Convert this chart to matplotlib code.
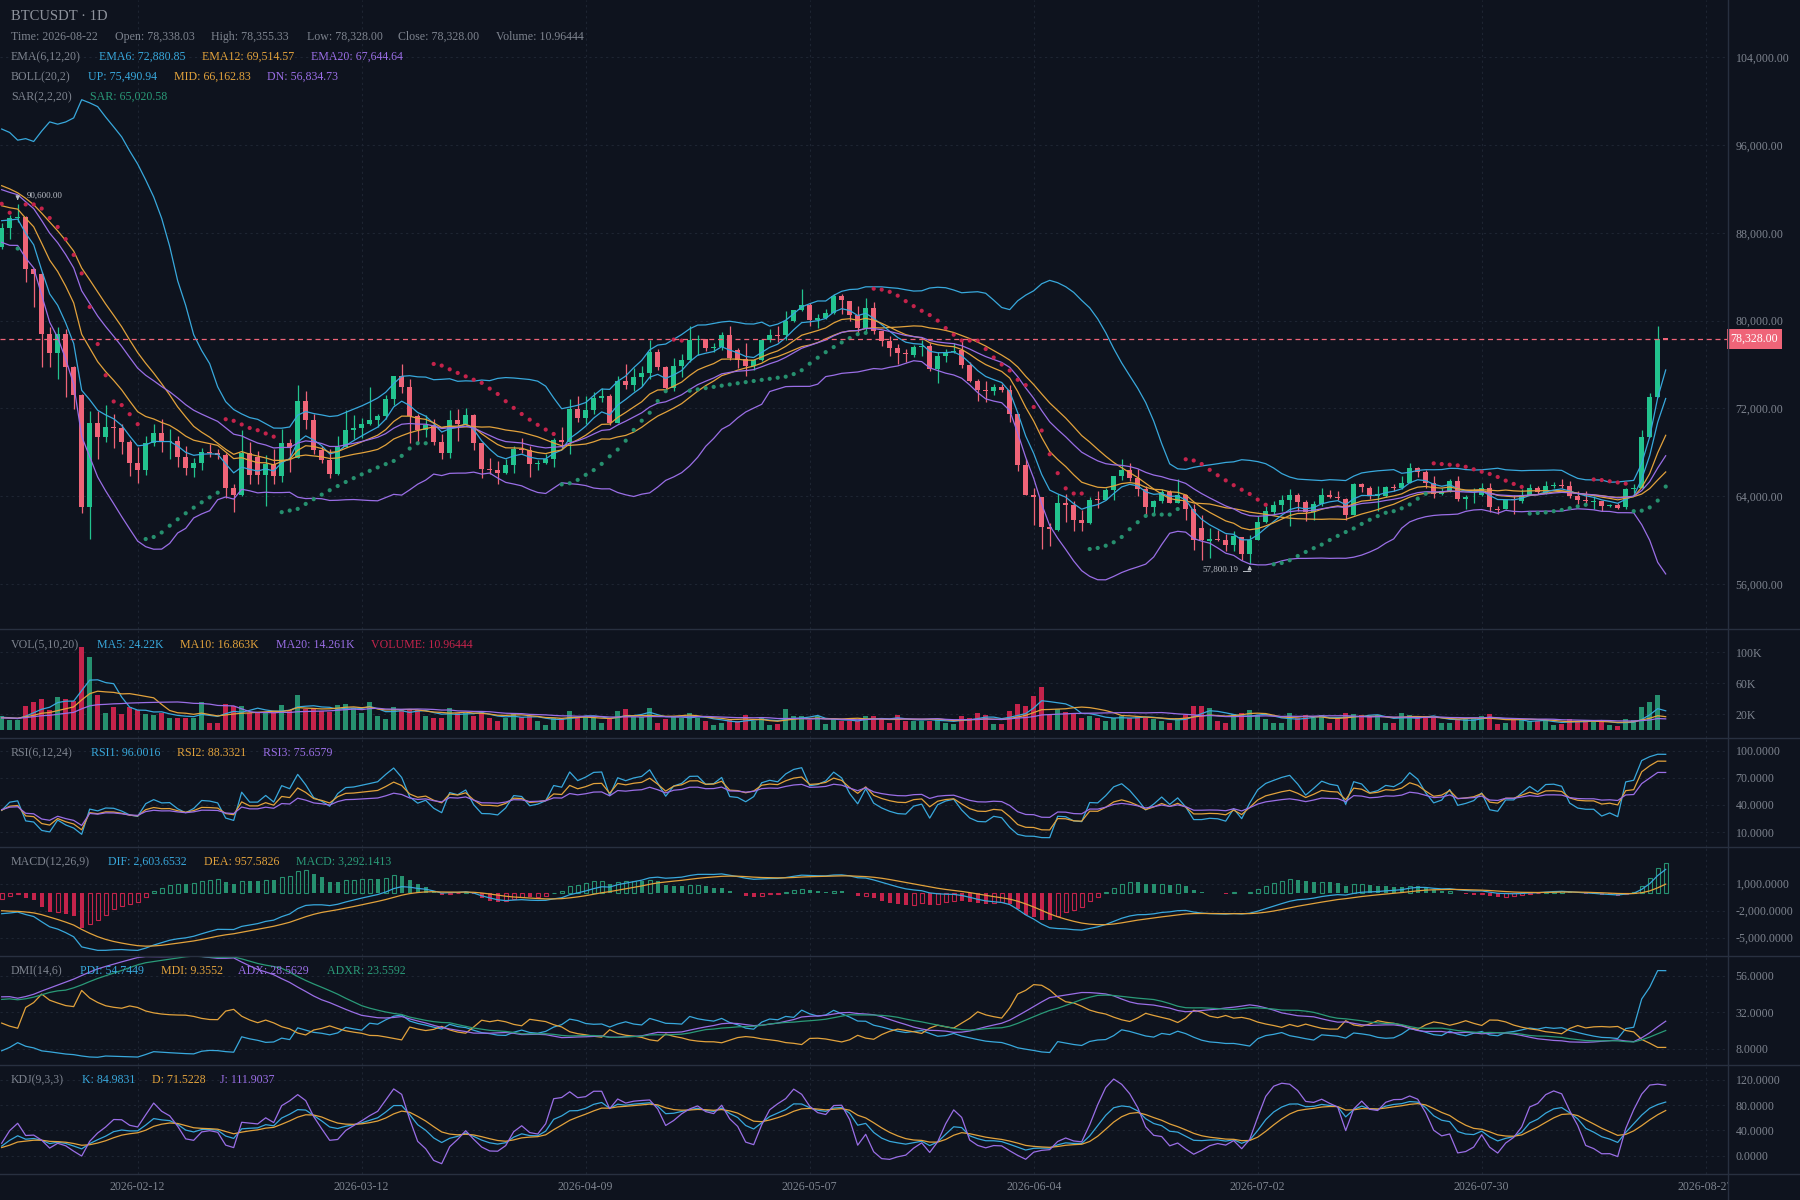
import datetime as dt
import numpy as np
import pandas as pd
import matplotlib
matplotlib.use("Agg")
import matplotlib.pyplot as plt
from matplotlib.lines import Line2D

plt.rcParams['font.family'] = ['Liberation Serif', 'DejaVu Serif']

# ---------------- data ----------------
start_date = dt.date(2026, 1, 26)

# days before the visible window, only used to seed the indicators
warm_open = [100200, 99500, 98200, 99600, 100400, 98900, 97600, 98800, 97200, 96100,
             97500, 96000, 95200, 96600, 94800, 95900, 94200, 93300, 94900, 93400,
             92500, 93900, 92100, 91300, 92600, 90700, 89900, 91200, 89300, 88400]
warm_high = [100900, 99900, 100000, 101000, 100600, 99200, 99300, 99000, 97500, 97900,
             97800, 96300, 97000, 96900, 96300, 96200, 94500, 95300, 95200, 93700,
             94300, 94200, 92400, 93000, 92900, 91000, 91600, 91500, 89600, 88700]
warm_low = [99000, 97900, 98000, 99300, 98600, 97200, 97400, 96900, 95700, 95900,
            95700, 94800, 95000, 94500, 94600, 93900, 92900, 93100, 93100, 92100,
            92300, 91800, 91000, 91100, 90400, 89600, 89700, 89000, 88100, 87300]
warm_close = [99500, 98200, 99600, 100400, 98900, 97600, 98800, 97200, 96100, 97500,
              96000, 95200, 96600, 94800, 95900, 94200, 93300, 94900, 93400, 92500,
              93900, 92100, 91300, 92600, 90700, 89900, 91200, 89300, 88400, 87600]
warm_vol = [14, 16, 12, 18, 15, 13, 17, 14, 19, 16, 13, 15, 18, 14, 12,
            16, 15, 17, 13, 14, 16, 18, 15, 13, 17, 14, 16, 19, 15, 14]

opens = [86730, 88410, 89330, 89480, 84750, 84290, 78800, 77060, 78800, 75800,
         73220, 63000, 70660, 69410, 70350, 70200, 68950, 67060, 66360, 68890,
         69800, 68950, 69000, 67580, 66540, 67060, 68070, 67980, 67730, 64770,
         64070, 67980, 67580, 65930, 66970, 65840, 68890, 67520, 72670, 70930,
         68190, 67300, 65990, 68530, 70050, 70200, 70570, 70930, 71270, 72850,
         74930, 73980, 71270, 70050, 70470, 68940, 67910, 70930, 70570, 71390,
         68830, 66450, 66390, 66080, 66810, 68340, 68220, 66900, 67060, 67370,
         69130, 68980, 71940, 71090, 71850, 73000, 73100, 70720, 74530, 74140,
         74840, 75230, 77180, 75750, 73830, 75840, 76450, 78280, 78340, 77490,
         77590, 78710, 77370, 76510, 75840, 76420, 78280, 78710, 78710, 79930,
         80990, 81450, 80080, 80260, 80720, 82250, 81790, 80540, 79320, 81180,
         79100, 78190, 77520, 77060, 76880, 77580, 77730, 75600, 76760, 77120,
         77370, 75970, 74530, 73680, 73550, 73980, 73710, 71480, 66810, 64160,
         63950, 61170, 60900, 63340, 63160, 61810, 61570, 63700, 63640, 64530,
         65840, 66360, 65690, 64620, 63030, 63610, 64370, 63400, 64070, 62850,
         61110, 59890, 60140, 60040, 59590, 60290, 58760, 60040, 61630, 62540,
         63180, 63700, 64070, 63460, 62540, 63250, 64160, 63950, 63760, 62330,
         65080, 64770, 64010, 64010, 64860, 64770, 65230, 66600, 66200, 65170,
         64250, 64470, 65410, 63790, 64070, 64100, 64770, 62850, 62880, 63700,
         63550, 64160, 64710, 64310, 64920, 65010, 64980, 64010, 63640, 63460,
         63550, 63090, 63180, 62990, 64620, 64770, 69410, 73070, 78338.03]
highs = [88870, 89630, 90600, 89550, 84800, 84400, 79410, 79410, 79260, 75900,
         73300, 71730, 71730, 72310, 71480, 70570, 69100, 68490, 69500, 70570,
         71020, 70170, 69500, 68580, 67520, 68430, 68740, 68280, 67900, 65080,
         70020, 68950, 68130, 67760, 68280, 70100, 69255, 74130, 73620, 71480,
         68580, 68280, 69500, 71880, 71390, 71150, 73920, 71480, 73220, 74930,
         76060, 74680, 71480, 71390, 71020, 69650, 71880, 71940, 72030, 71480,
         68830, 67460, 67210, 67370, 68580, 69350, 68580, 67300, 67880, 69350,
         70350, 72850, 73160, 73160, 73470, 73830, 73300, 74990, 76060, 75660,
         75900, 78280, 77430, 75900, 76570, 76970, 79560, 78710, 78340, 77980,
         78950, 79560, 77490, 77980, 76510, 78340, 79260, 79500, 80850, 81000,
         82920, 81640, 80630, 81090, 82460, 82460, 81790, 81330, 82100, 81700,
         79100, 78590, 77890, 77430, 77800, 78250, 77950, 77120, 77430, 77950,
         78190, 76210, 74680, 74530, 74230, 74230, 74130, 71480, 67370, 64770,
         63950, 61570, 64250, 64250, 63610, 62790, 63950, 64470, 64710, 65840,
         67370, 67000, 66450, 64920, 63700, 64620, 64560, 65600, 64250, 63250,
         62330, 61110, 60960, 60590, 60810, 60290, 60500, 62240, 63100, 63550,
         64160, 64680, 64320, 63700, 63550, 64770, 64530, 64470, 63860, 65230,
         65230, 64920, 64920, 64920, 65080, 65840, 67000, 66690, 66390, 65840,
         64770, 65600, 65840, 64160, 64770, 65230, 65230, 63090, 63700, 64160,
         64620, 65080, 64920, 65380, 65290, 65530, 65380, 64470, 64470, 64010,
         63550, 63250, 63400, 64770, 65080, 70020, 73400, 79560, 78355.33]
lows = [86580, 87430, 89020, 83530, 81240, 75800, 75800, 74680, 73070, 71940,
        62480, 60100, 67420, 68950, 68430, 67820, 65840, 65230, 65900, 68580,
        68040, 67420, 66660, 65900, 65750, 66360, 67580, 67370, 63860, 62550,
        64010, 65080, 65080, 63100, 65080, 65290, 66200, 67520, 70110, 67820,
        66990, 65630, 65900, 68530, 69255, 69350, 70480, 70350, 71020, 72310,
        73400, 68830, 68830, 69440, 68650, 67370, 67520, 69040, 70480, 68190,
        65630, 65990, 65080, 65990, 66080, 67980, 65780, 66390, 66900, 66690,
        68280, 67820, 70780, 70570, 71480, 72610, 70500, 70660, 73770, 73620,
        74070, 74680, 75540, 73680, 73620, 74840, 76270, 76880, 77280, 77190,
        77370, 76450, 75660, 74990, 75540, 76360, 78040, 78100, 78280, 79870,
        80930, 79560, 79320, 80170, 80630, 80630, 80020, 78890, 79015, 78800,
        77730, 76820, 76060, 76270, 76670, 76820, 75450, 74320, 76210, 77060,
        75660, 74380, 72700, 72610, 73220, 73460, 70780, 66300, 64160, 61420,
        59190, 59500, 60810, 61630, 60810, 60810, 61510, 62940, 63640, 63700,
        65470, 65380, 64010, 62330, 62330, 63340, 63340, 63340, 61880, 59130,
        58150, 58370, 59890, 58980, 58980, 58220, 57800.19, 59980, 61570, 62330,
        62640, 61320, 62640, 61720, 61810, 63100, 63860, 63700, 61810, 62330,
        64380, 63760, 62640, 63950, 64470, 64620, 65170, 65780, 64770, 63860,
        64070, 64380, 63550, 62850, 63340, 64010, 62580, 62420, 62850, 62420,
        63400, 64070, 64250, 64250, 64770, 64770, 63860, 63250, 63250, 62880,
        62640, 63030, 62850, 62850, 64310, 64770, 69410, 73070, 78328.00]
closes = [88410, 89330, 89480, 84750, 84290, 78800, 77060, 78800, 75800, 73220,
          63000, 70660, 69410, 70350, 70200, 68950, 67060, 66360, 68890, 69800,
          68950, 69000, 67580, 66540, 67060, 68070, 67980, 67730, 64770, 64070,
          67980, 65930, 65930, 66970, 65840, 68890, 68430, 72670, 70930, 68190,
          67300, 65990, 68530, 70050, 70200, 70570, 70930, 71270, 72850, 74930,
          73980, 71270, 70050, 70470, 68940, 67910, 70930, 70570, 71390, 68830,
          66450, 66390, 66080, 66810, 68340, 68220, 66900, 67060, 67370, 69130,
          68980, 71940, 71090, 71850, 73000, 73100, 70720, 74530, 74140, 74840,
          75230, 77180, 75750, 73830, 75840, 76450, 78280, 78340, 77490, 77590,
          78710, 76570, 76450, 75900, 76420, 78280, 78710, 78590, 79930, 80990,
          81450, 80080, 80260, 80720, 82250, 81850, 80540, 79320, 81180, 79100,
          78190, 77520, 77060, 76970, 77580, 77730, 75600, 76760, 77120, 77280,
          75970, 74530, 73680, 73590, 73920, 73710, 71480, 66810, 64160, 63950,
          61170, 61020, 63340, 63190, 61810, 61570, 63700, 63640, 64530, 65840,
          66360, 65690, 64620, 63030, 63610, 64370, 63400, 64070, 62850, 60040,
          60040, 60140, 60040, 59590, 60350, 58760, 60040, 61630, 62640, 63180,
          63700, 64070, 63460, 62540, 63250, 64160, 63950, 63860, 62330, 65080,
          64860, 64010, 64250, 64860, 64770, 65230, 66600, 66200, 65230, 64250,
          64470, 65410, 63790, 63950, 64160, 64770, 63000, 62790, 63640, 63640,
          64160, 64710, 64380, 64980, 65010, 64920, 64010, 63640, 63550, 63550,
          63090, 63180, 62940, 64620, 64770, 69410, 73070, 78338.03, 78328.00]
# volume in thousands
volumes = [18, 13, 13, 31, 36.5, 40, 26, 43, 40, 37,
           107, 94, 45, 22, 30, 21, 29, 26, 21, 19,
           22, 16, 16, 16, 16, 36.5, 9.5, 9.5, 33.5, 31,
           31, 21.5, 23.5, 22, 23.5, 32, 26, 45, 26.5, 26.5,
           24.5, 23.5, 32, 33.5, 28, 21.5, 36.5, 18, 14, 29,
           26.5, 26, 26, 18, 16, 16, 28, 22, 21.5, 18,
           23.5, 16, 11, 16, 22, 17, 18, 12, 7, 15,
           16, 25, 16, 18, 16, 9.5, 14, 25, 27, 17,
           17, 28, 9.5, 14, 17, 16, 21.5, 16, 12, 6.5,
           9.5, 13, 11, 19, 11, 16, 6.5, 8, 26.5, 18,
           18, 13, 18, 8, 14, 12, 12, 12, 18, 18,
           14, 9.5, 19, 12, 12, 12, 12, 14, 9.5, 8,
           18, 16, 22, 19, 8, 8, 25, 33.5, 31, 44,
           55, 19, 26.5, 23.5, 21.5, 16, 18, 16, 11, 16,
           18, 16, 18, 16, 14, 11, 9.5, 15, 19, 31,
           31, 28, 11, 9.5, 20.5, 21.5, 26, 19, 14, 9.5,
           9.5, 21.5, 15, 19, 16, 19, 9.5, 16, 21.5, 20.5,
           19, 18, 19, 9.5, 9.5, 21.5, 19, 16, 18, 16,
           9.5, 9.5, 14, 14, 16, 18, 20.5, 8, 8.5, 14,
           14, 11, 11, 12, 6.5, 8, 14, 12, 13, 11,
           11, 6.5, 5, 14, 13, 29, 36.5, 45, 0.011]

date_ticks = ['2026-02-12', '2026-03-12', '2026-04-09', '2026-05-07',
              '2026-06-04', '2026-07-02', '2026-07-30', '2026-08-27']

price_ticks = [56000, 64000, 72000, 80000, 88000, 96000, 104000]
vol_ticks = [20, 60, 100]
rsi_ticks = [10, 40, 70, 100]
macd_ticks = [-5000, -2000, 1000]
dmi_ticks = [8, 32, 56]
kdj_ticks = [0, 40, 80, 120]

# ---------------- colours ----------------
BG = '#0e131e'
GRID = '#1e2532'
SEP = '#283040'
TXT = '#7d838e'
TITLE = '#8e939d'
CYAN = '#38a8dc'
ORANGE = '#e2a23c'
PURPLE = '#9a6ee6'
GREENTXT = '#2a9a78'
UP = '#22c38e'
DOWN = '#ef6478'
VUP = '#26906f'
VDOWN = '#c4234b'
NOTE = '#b8bcc4'

# ---------------- indicators ----------------
o = np.array(warm_open + opens, float)
h = np.array(warm_high + highs, float)
l = np.array(warm_low + lows, float)
c = np.array(warm_close + closes, float)
v = np.array(warm_vol + volumes, float)
nw = len(warm_close)


def ema(x, n):
    return pd.Series(x).ewm(span=n, adjust=False).mean().to_numpy()


def ma(x, n):
    return pd.Series(x).rolling(n, min_periods=1).mean().to_numpy()


def wsma(x, n):
    return pd.Series(x).ewm(alpha=1.0 / n, adjust=False).mean().to_numpy()


def psar(hi, lo, start=0.02, step=0.02, amax=0.2):
    n = len(hi)
    out = np.zeros(n)
    bull = np.zeros(n, bool)
    up = False
    ep = lo[0]
    s = hi[0]
    af = start
    out[0] = s
    for t in range(1, n):
        s = s + af * (ep - s)
        if up:
            s = min(s, lo[t - 1], lo[max(t - 2, 0)])
            if lo[t] < s:
                up, s, ep, af = False, ep, lo[t], start
            elif hi[t] > ep:
                ep = hi[t]
                af = min(af + step, amax)
        else:
            s = max(s, hi[t - 1], hi[max(t - 2, 0)])
            if hi[t] > s:
                up, s, ep, af = True, ep, hi[t], start
            elif lo[t] < ep:
                ep = lo[t]
                af = min(af + step, amax)
        out[t] = s
        bull[t] = up
    return out, bull


ema6, ema12, ema20 = ema(c, 6), ema(c, 12), ema(c, 20)
mid = pd.Series(c).rolling(20, min_periods=1).mean().to_numpy()
sd = pd.Series(c).rolling(20, min_periods=1).std(ddof=0).to_numpy()
bup, bdn = mid + 2 * sd, mid - 2 * sd
sar, sar_bull = psar(h, l)

vma5, vma10, vma20 = ma(v, 5), ma(v, 10), ma(v, 20)

d = np.diff(c, prepend=c[0])
gain, loss_abs = np.maximum(d, 0), np.abs(d)
rsi = {n: wsma(gain, n) / np.maximum(wsma(loss_abs, n), 1e-9) * 100 for n in (6, 12, 24)}

dif = ema(c, 12) - ema(c, 26)
dea = ema(dif, 9)
macd = 2 * (dif - dea)

# DMI(14,6): Wilder smoothing
pc = np.roll(c, 1); pc[0] = c[0]
ph = np.roll(h, 1); ph[0] = h[0]
pl = np.roll(l, 1); pl[0] = l[0]
tr = np.maximum.reduce([h - l, np.abs(h - pc), np.abs(l - pc)])
hd, ld = h - ph, pl - l
dmp = np.where((hd > 0) & (hd > ld), hd, 0.0)
dmm = np.where((ld > 0) & (ld > hd), ld, 0.0)
trs = wsma(tr, 14)
pdi = wsma(dmp, 14) / trs * 100
mdi = wsma(dmm, 14) / trs * 100
dx = np.abs(mdi - pdi) / np.maximum(mdi + pdi, 1e-9) * 100
adx = wsma(dx, 14)
adx_prev = np.roll(adx, 6); adx_prev[:6] = adx[:6]
adxr = (adx + adx_prev) / 2

llv = pd.Series(l).rolling(9, min_periods=1).min().to_numpy()
hhv = pd.Series(h).rolling(9, min_periods=1).max().to_numpy()
rsv = (c - llv) / np.maximum(hhv - llv, 1e-9) * 100
kk = np.zeros(len(c)); dd = np.zeros(len(c))
pk, pd_ = 50.0, 50.0
for t in range(len(c)):
    pk = (2 * pk + rsv[t]) / 3
    pd_ = (2 * pd_ + pk) / 3
    kk[t], dd[t] = pk, pd_
jj = 3 * kk - 2 * dd

vis = slice(nw, None)
n = len(closes)
x = np.arange(n)
O, H, L, C, V = o[vis], h[vis], l[vis], c[vis], v[vis]
rising = C >= O

tick_pos = [(dt.date.fromisoformat(s) - start_date).days for s in date_ticks]

# ---------------- figure ----------------
W, Hf = 1800, 1200
fig = plt.figure(figsize=(18, 12), dpi=100, facecolor=BG)
AX_R = 1728
bounds = [0, 629, 738, 847, 956, 1065, 1174]
XLIM = (-0.21, (AX_R - 1.7) / 8)


def panel(top, bot):
    ax = fig.add_axes([0, 1 - bot / Hf, AX_R / W, (bot - top) / Hf])
    ax.set_facecolor(BG)
    for s in ax.spines.values():
        s.set_visible(False)
    ax.set_xlim(*XLIM)
    ax.set_xticks(tick_pos)
    ax.tick_params(axis='x', length=0, labelbottom=False)
    ax.yaxis.tick_right()
    ax.tick_params(axis='y', length=0, pad=5.5, labelsize=8.6, labelcolor=TXT)
    ax.grid(True, color=GRID, lw=0.8, linestyle=(0, (2, 3)))
    ax.set_axisbelow(True)
    return ax


axes = [panel(bounds[k], bounds[k + 1]) for k in range(6)]
ax_p, ax_v, ax_r, ax_m, ax_d, ax_k = axes

# main candles
col = np.where(rising, UP, DOWN)
ax_p.vlines(x, L, H, colors=col, lw=0.9, zorder=2)
ax_p.bar(x, np.maximum(np.abs(C - O), 90), bottom=np.minimum(O, C), width=0.62,
         color=col, lw=0, zorder=2)
ax_p.scatter(x, sar[vis], s=9, c=np.where(sar_bull[vis], VUP, VDOWN), lw=0, zorder=3)
for arr, cc in [(bup[vis], CYAN), (mid[vis], ORANGE), (bdn[vis], PURPLE)]:
    ax_p.plot(x, arr, color=cc, lw=0.9, zorder=2.5)
for arr, cc in [(ema6[vis], CYAN), (ema12[vis], ORANGE), (ema20[vis], PURPLE)]:
    ax_p.plot(x, arr, color=cc, lw=0.9, zorder=2.5)
ax_p.axhline(C[-1], color=DOWN, lw=0.9, dashes=(4, 3), zorder=3)
ax_p.text(1.0015, C[-1], f'{C[-1]:,.2f}', transform=ax_p.get_yaxis_transform(),
          ha='left', va='center', fontsize=8.6, color='white', clip_on=False,
          bbox=dict(boxstyle='square,pad=0.3', fc=DOWN, ec='none'))
ax_p.set_ylim(51900, 109235)
ax_p.set_yticks(price_ticks)
ax_p.set_yticklabels([f'{t:,.2f}' for t in price_ticks])

# highest / lowest marks
imax, imin = int(np.argmax(H)), int(np.argmin(L))
hi, lo = H[imax], L[imin]
ax_p.annotate('', xy=(imax, hi + 120), xytext=(imax, hi + 800),
              arrowprops=dict(arrowstyle='-|>,head_length=0.25,head_width=0.12',
                              color=NOTE, lw=0.7))
ax_p.text(imax + 1.1, hi + 800, f'{hi:,.2f}', color=NOTE, fontsize=6.5,
          ha='left', va='center')
ax_p.text(imin - 1.4, lo - 500, f'{lo:,.2f}', color=NOTE, fontsize=6.5,
          ha='right', va='center')
ax_p.annotate('', xy=(imin, lo - 100), xytext=(imin, lo - 600),
              arrowprops=dict(arrowstyle='-|>,head_length=0.25,head_width=0.12',
                              color=NOTE, lw=0.7))
ax_p.plot([imin - 0.8, imin], [lo - 600, lo - 600], color=NOTE, lw=0.7)

# volume
ax_v.bar(x, V, width=0.55, color=np.where(rising, VUP, VDOWN), lw=0, zorder=2)
for arr, cc in [(vma5[vis], CYAN), (vma10[vis], ORANGE), (vma20[vis], PURPLE)]:
    ax_v.plot(x, arr, color=cc, lw=0.9, zorder=3)
ax_v.set_ylim(-10.3, 130)
ax_v.set_yticks(vol_ticks)
ax_v.set_yticklabels([f'{t}K' for t in vol_ticks])

# RSI
for nn, cc in [(6, CYAN), (12, ORANGE), (24, PURPLE)]:
    ax_r.plot(x, rsi[nn][vis], color=cc, lw=0.9)
ax_r.set_ylim(-6.5, 113.9)
ax_r.set_yticks(rsi_ticks)
ax_r.set_yticklabels([f'{t:.4f}' for t in rsi_ticks])

# MACD: hollow when rising, filled when falling
mv = macd[vis]
prev = macd[nw - 1:-1]
for i in range(n):
    cc = VUP if mv[i] >= 0 else VDOWN
    if mv[i] > prev[i]:
        ax_m.bar(x[i], mv[i], width=0.5, fill=False, edgecolor=cc, lw=0.8, zorder=2)
    else:
        ax_m.bar(x[i], mv[i], width=0.5, color=cc, lw=0, zorder=2)
ax_m.plot(x, dif[vis], color=CYAN, lw=0.9, zorder=3)
ax_m.plot(x, dea[vis], color=ORANGE, lw=0.9, zorder=3)
ax_m.set_ylim(-7040, 5085)
ax_m.set_yticks(macd_ticks)
ax_m.set_yticklabels([f'{t:,.4f}' for t in macd_ticks])

# DMI
for arr, cc in [(pdi[vis], CYAN), (mdi[vis], ORANGE), (adx[vis], PURPLE), (adxr[vis], GREENTXT)]:
    ax_d.plot(x, arr, color=cc, lw=0.9)
ax_d.set_ylim(-2.5, 68.75)
ax_d.set_yticks(dmi_ticks)
ax_d.set_yticklabels([f'{t:.4f}' for t in dmi_ticks])

# KDJ
for arr, cc in [(kk[vis], CYAN), (dd[vis], ORANGE), (jj[vis], PURPLE)]:
    ax_k.plot(x, arr, color=cc, lw=0.9)
ax_k.set_ylim(-29, 143.6)
ax_k.set_yticks(kdj_ticks)
ax_k.set_yticklabels([f'{t:.4f}' for t in kdj_ticks])

# date axis
ax_t = fig.add_axes([0, 0, AX_R / W, (Hf - bounds[-1]) / Hf])
ax_t.set_xlim(*XLIM)
ax_t.set_ylim(0, 1)
ax_t.axis('off')
for p, s in zip(tick_pos, date_ticks):
    ax_t.text(p, 0.5, s, ha='center', va='center', fontsize=8.6, color=TXT, clip_on=True)

# separators and right border
for yb in bounds[1:]:
    fig.add_artist(Line2D([0, 1], [1 - yb / Hf] * 2, color=SEP, lw=1.0))
fig.add_artist(Line2D([AX_R / W] * 2, [0, 1], color=SEP, lw=1.0))


def ftext(px, py, s, color=TXT, size=8.6):
    fig.text(px / W, 1 - py / Hf, s, color=color, fontsize=size, ha='left', va='center')


# headers
ftext(11, 16, 'BTCUSDT · 1D', TITLE, 10.5)
for px, s in [(11, 'Time: 2026-08-22'), (115, 'Open: 78,338.03'), (211, 'High: 78,355.33'),
              (307, 'Low: 78,328.00'), (398, 'Close: 78,328.00'), (496, 'Volume: 10.96444')]:
    ftext(px, 37, s)
ftext(11, 57, 'EMA(6,12,20)')
ftext(99, 57, 'EMA6: 72,880.85', CYAN)
ftext(202, 57, 'EMA12: 69,514.57', ORANGE)
ftext(311, 57, 'EMA20: 67,644.64', PURPLE)
ftext(11, 77, 'BOLL(20,2)')
ftext(88, 77, 'UP: 75,490.94', CYAN)
ftext(174, 77, 'MID: 66,162.83', ORANGE)
ftext(267, 77, 'DN: 56,834.73', PURPLE)
ftext(11, 97, 'SAR(2,2,20)')
ftext(90, 97, 'SAR: 65,020.58', GREENTXT)

ftext(11, 645, 'VOL(5,10,20)')
ftext(97, 645, 'MA5: 24.22K', CYAN)
ftext(180, 645, 'MA10: 16.863K', ORANGE)
ftext(276, 645, 'MA20: 14.261K', PURPLE)
ftext(371, 645, 'VOLUME: 10.96444', VDOWN)

ftext(11, 753, 'RSI(6,12,24)')
ftext(91, 753, 'RSI1: 96.0016', CYAN)
ftext(177, 753, 'RSI2: 88.3321', ORANGE)
ftext(263, 753, 'RSI3: 75.6579', PURPLE)

ftext(11, 862, 'MACD(12,26,9)')
ftext(108, 862, 'DIF: 2,603.6532', CYAN)
ftext(204, 862, 'DEA: 957.5826', ORANGE)
ftext(296, 862, 'MACD: 3,292.1413', GREENTXT)

ftext(11, 971, 'DMI(14,6)')
ftext(80, 971, 'PDI: 54.7449', CYAN)
ftext(161, 971, 'MDI: 9.3552', ORANGE)
ftext(238, 971, 'ADX: 28.5629', PURPLE)
ftext(327, 971, 'ADXR: 23.5592', GREENTXT)

ftext(11, 1080, 'KDJ(9,3,3)')
ftext(82, 1080, 'K: 84.9831', CYAN)
ftext(152, 1080, 'D: 71.5228', ORANGE)
ftext(220, 1080, 'J: 111.9037', PURPLE)

fig.savefig('out.png', dpi=100, facecolor=BG)
